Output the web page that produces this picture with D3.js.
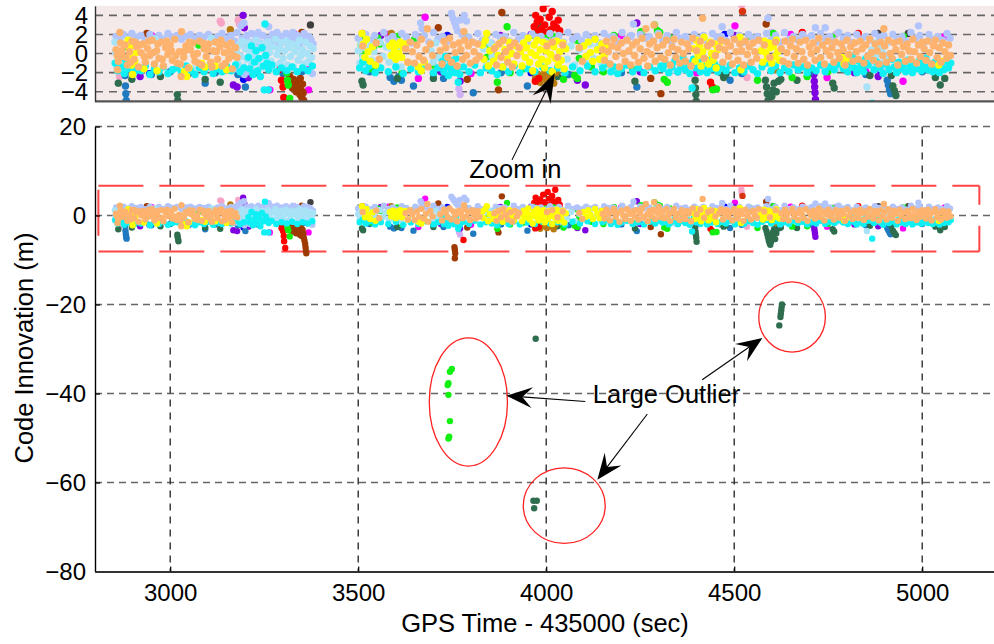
<!DOCTYPE html>
<html><head><meta charset="utf-8">
<script src="https://cdn.jsdelivr.net/npm/d3@7/dist/d3.min.js"></script>
<style>
html,body{margin:0;padding:0;background:#fff;overflow:hidden}
svg{display:block;font-family:"Liberation Sans",Arial,Helvetica,sans-serif}
</style></head><body>
<svg id="chart" width="994" height="644"></svg>
<script>
// Code innovation per satellite, [GPS time - 435000 (s), innovation (m)]
const sandy = [
[2856,0.4],[2859,-0.2],[2860,-1.7],[2862,-0.8],[2866,2.2],[2868,1.1],[2871,0.3],[2874,-0.3],[2880,0.9],[2883,-0.4],[2886,-1.2],[2892,0.2],[2895,-0.9],[2898,1.3],[2904,-0.6],[2907,1.2],[2910,0.7],[2916,-1.4],[2919,0.9],[2922,0.1],[2928,1.0],[2931,-0.3],[2934,-0.9],[2940,0.5],[2943,1.3],[2946,-0.2],[2952,1.4],[2955,0.1],[2958,-1.1],[2964,0.3],[2967,1.0],[2970,-0.5],[2976,1.2],[2979,-0.6],[2982,-1.3],[2988,0.6],[2991,1.3],[2994,-0.1],[3000,0.9],[3003,0.3],[3006,-0.7],[3012,1.5],[3015,-0.2],[3018,-1.0],[3024,0.2],[3027,-1.1],[3029,-2.4],[3030,2.3],[3036,-0.4],[3039,0.3],[3042,0.8],[3048,-1.5],[3051,1.2],[3054,0.4],[3060,1.1],[3063,-0.2],[3066,-0.8],[3072,0.0],[3075,-1.0],[3078,1.3],[3084,-1.2],[3087,1.1],[3090,0.5],[3096,-0.3],[3099,0.4],[3102,1.0],[3108,-0.9],[3111,-1.4],[3114,0.3],[3120,1.2],[3123,0.2],[3126,-0.6],[3132,0.7],[3135,1.4],[3138,-1.3],[3144,0.1],[3147,-1.0],[3150,0.9],[3156,-0.5],[3159,0.3],[3162,1.1],[3165,-1.6],[3168,-0.2],[3174,0.6],[3178,-0.4],
[3512,0.8],[3548,1.1],[3556,-0.6],[3626,0.5],[3632,-0.9],[3638,1.2],[3644,0.2],[3650,-1.0],[3656,0.9],[3662,-0.3],[3668,1.5],[3674,-0.7],[3680,0.4],[3684,2.6],[3686,-1.4],[3692,1.0],[3698,-0.2],
[3718,0.3],[3723,-1.1],[3728,1.3],[3733,0.6],[3738,-0.4],[3743,1.6],[3748,-0.9],[3753,0.9],[3758,0.1],[3763,-1.3],[3768,1.1],[3773,0.4],[3778,-0.6],[3781,2.3],[3783,1.4],[3788,-0.2],[3793,0.8],[3798,-1.0],[3803,1.2],[3808,0.2],[3813,-0.7],[3818,1.0],[3823,-0.3],
[3862,0.5],[3868,-1.2],[3874,1.0],[3880,-0.4],[3886,1.4],[3892,0.2],[3898,-0.9],[3904,0.7],[3910,-1.4],[3916,1.1],[3922,-0.2],[3928,0.6],
[4002,0.8],[4016,1.2],[4030,-0.4],[4044,0.9],[4088,0.6],[4096,-0.8],
[4150,0.4],[4155,-0.7],[4160,1.3],[4165,0.2],[4170,-1.1],[4175,0.8],[4180,1.5],[4185,-0.3],[4190,0.6],[4195,-1.4],[4200,1.1],[4205,0.0],[4210,-0.8],[4215,1.4],[4220,0.3],[4225,-1.2],[4230,0.9],[4235,-0.2],[4240,1.2],[4245,-0.9],[4250,0.5],[4255,1.6],[4260,-0.5],[4265,2.6],[4268,0.2],[4270,-1.3],[4275,1.0],[4280,-0.1],[4285,1.3],[4287,3.0],[4290,-0.8],[4295,0.6],[4300,1.9],[4305,-0.4],
[4310,0.9],[4315,-0.6],[4320,1.4],[4325,0.1],[4330,-1.2],[4335,0.7],[4340,1.5],[4345,-0.4],[4350,0.4],[4355,-1.0],[4360,1.2],[4365,0.0],[4370,-0.8],[4375,1.0],[4380,0.5],[4385,-1.3],[4390,1.6],[4400,0.3],[4410,1.3],[4416,3.7],[4420,-0.5],[4430,0.8],[4440,1.1],[4450,-0.2],[4460,0.6],[4465,1.4],[4470,-0.9],[4475,0.4],[4480,1.2],[4485,-0.3],[4490,0.8],[4495,-1.1],[4500,1.5],[4505,0.2],[4510,-0.7],[4515,1.0],[4520,0.3],[4525,-1.2],[4530,1.3],[4535,-0.1],[4540,0.7],[4545,-0.9],[4550,1.1],[4555,0.2],[4560,-0.5],[4565,1.4],[4580,0.9],[4595,-0.4],[4610,1.2],[4625,0.5],[4630,-0.8],[4635,1.3],[4640,0.1],[4645,-1.1],[4650,0.8],[4655,1.5],[4660,-0.3],[4665,0.5],[4670,-1.0],[4675,1.2],[4680,0.2],[4685,-0.6],[4690,1.4],[4695,-1.2],[4700,0.7],[4705,0.0],[4710,1.1],[4715,-0.7],[4720,0.4],[4725,1.6],[4730,-0.4],[4735,0.9],[4740,-1.1],[4745,0.3],[4750,1.3],[4755,-0.2],[4760,0.6],[4765,-0.9],[4770,1.2],[4775,0.1],[4780,-0.5],[4785,1.0],[4790,0.4],[4795,-1.2],[4800,1.4],[4805,-0.1],[4810,0.7],[4815,-0.8],[4820,1.1],[4825,0.2],[4830,-0.6],[4835,1.3],[4840,0.5],[4845,-1.0],[4850,0.9],[4855,-0.3],[4860,1.5],[4865,0.1],[4870,-0.7],[4875,1.0],[4880,0.3],[4885,-1.1],[4890,1.2],[4895,-0.2],[4898,2.6],[4900,0.8],[4905,-0.9],[4910,1.4],[4915,0.0],[4920,-0.5],[4925,1.1],[4930,0.4],[4935,-1.2],[4940,1.3],[4945,-0.1],[4950,0.7],[4955,-0.8],[4960,1.0],[4965,0.3],[4970,-0.6],[4975,1.5],[4980,0.2],[4985,-1.0],[4990,0.9],[4995,-0.3],[5000,1.2],[5005,0.5],[5010,-0.7],[5015,1.3],[5020,0.1],[5025,-1.1],[5030,0.8],[5035,1.4],[5040,-0.4],[5045,0.6],[5050,-0.9],[5055,1.1],[5060,0.2],[5065,-0.5],[5070,0.9],[5075,-0.2]
];
const periwinkle = [
[2856,1.8],[2866,1.5],[2876,2.0],[2888,1.6],[2898,2.1],[2910,1.7],[2922,1.9],[2934,1.4],[2946,2.0],[2958,1.6],[2970,1.9],[2982,1.5],[2994,2.1],[3006,1.7],[3018,1.9],[3030,1.5],[3042,1.8],[3054,2.0],[3066,1.6],[3078,1.9],[3090,1.7],[3102,2.0],[3114,1.5],[3126,1.8],[3138,2.1],[3150,1.6],[3162,1.9],[3172,1.3],[3176,-1.6],[3178,2.2],[3184,0.9],[3188,2.9],[3192,1.6],[3196,3.2],[3197,-2.2],[3200,0.6],[3204,1.9],[3210,1.2],[3212,-1.9],[3216,2.1],[3222,0.8],[3228,1.7],[3234,2.2],[3240,1.1],[3246,1.9],[3252,0.5],[3258,1.6],[3262,2.8],[3266,1.0],[3272,2.0],[3278,1.4],[3284,2.2],[3290,0.9],[3296,1.8],[3302,1.3],[3308,2.1],[3314,1.0],[3320,1.7],[3326,2.2],[3332,1.4],[3338,1.9],[3344,0.8],[3350,1.6],[3356,2.1],[3362,1.2],[3368,1.8],[3374,1.5],[3378,-2.1],[3380,1.0],
[3500,1.6],[3510,1.2],[3520,2.0],[3532,1.4],[3544,1.9],[3556,1.2],[3568,2.2],[3580,1.5],[3592,1.8],[3604,1.3],[3616,2.1],[3628,1.7],[3640,1.1],[3652,2.0],[3664,1.6],[3666,3.2],[3670,2.6],[3676,1.9],[3688,1.2],[3700,2.2],[3712,1.5],[3724,1.8],[3736,1.3],[3748,4.2],[3752,3.7],[3756,3.3],[3760,2.8],[3764,2.4],[3770,3.5],[3776,2.0],[3782,4.0],[3788,3.4],[3794,1.7],[3806,1.2],[3818,2.1],[3830,1.4],[3842,1.9],[3854,1.1],[3866,2.0],[3878,1.7],[3890,1.8],[3902,1.3],[3914,2.2],[3926,1.5],[3938,1.9],[3950,1.2],[3962,2.0],[3974,1.7],[3986,1.8],[3998,1.3],[4010,2.1],[4022,1.4],[4034,1.9],[4046,1.2],[4058,2.2],[4070,1.5],[4082,1.8],[4094,1.4],[4106,2.0],[4118,1.6],[4130,1.9],[4142,1.1],[4154,2.1],[4166,1.7],[4178,1.8],[4190,1.3],[4202,2.2],[4214,1.5],[4226,1.9],[4232,3.1],[4238,1.2],[4250,2.0],[4262,1.6],[4274,1.8],[4286,1.3],[4298,2.1],[4310,1.4],[4322,1.9],[4334,1.2],[4346,2.2],[4358,1.6],[4370,1.8],[4382,1.3],[4394,2.0],[4406,1.5],[4418,1.9],[4430,1.2],[4442,2.1],[4454,1.7],[4466,1.8],[4468,2.8],[4478,1.4],[4490,2.2],[4502,1.5],[4514,1.9],[4526,1.2],[4538,2.0],[4550,1.6],[4562,1.8],[4574,1.3],[4586,2.1],[4590,3.7],[4598,1.4],[4610,1.9],[4622,1.2],[4634,2.2],[4646,1.5],[4658,1.8],[4670,1.4],[4682,2.0],[4694,1.6],[4706,1.9],[4716,2.7],[4718,1.2],[4730,2.1],[4742,2.7],[4744,1.5],[4754,1.8],[4766,1.3],[4778,2.2],[4790,1.6],[4802,1.9],[4814,1.2],[4826,2.0],[4838,1.5],[4850,1.8],[4862,1.4],[4874,2.1],[4886,1.7],[4898,1.9],[4910,1.2],[4922,2.0],[4934,1.5],[4946,1.8],[4958,1.3],[4970,2.2],[4982,1.6],[4990,2.9],[4994,1.9],[5006,1.2],[5018,2.0],[5030,1.5],[5042,1.8],[5054,1.4],[5066,2.1],[5074,1.6]
];
const skyBlue = [
[2853,1.2],[2853,-1.0],[2855,0.1],[2858,-1.4],[2900,-1.6],[2960,1.5],[3060,-1.6],[3110,1.6],
[3176,0.2],[3180,-1.0],[3184,0.9],[3188,-0.3],[3192,1.3],[3196,-1.4],[3200,0.5],[3204,-0.6],[3208,1.1],[3212,0.0],[3216,-1.2],[3220,0.8],[3224,-0.2],[3228,1.4],[3232,-0.9],[3236,0.4],[3240,-1.5],[3244,1.0],[3248,-0.4],[3252,0.6],[3256,-1.1],[3260,1.2],[3264,0.1],[3268,-0.8],[3272,0.7],[3276,-1.3],[3280,1.5],[3284,-0.1],[3288,0.5],[3292,-1.0],[3296,1.1],[3300,-0.5],[3304,0.3],[3308,1.3],[3312,-1.2],[3316,0.6],[3320,-0.3],[3324,1.0],[3328,-1.4],[3332,0.2],[3336,0.9],[3340,-0.7],[3344,1.4],[3348,-0.2],[3352,0.4],[3356,-1.1],[3360,1.2],[3364,0.0],[3368,-0.8],[3372,0.8],[3376,-0.4],[3380,0.5],
[3500,0.3],[3504,-1.0],[3508,1.0],[3512,-0.4],[3518,0.6],[3524,-1.3],[3530,0.9],[3536,-0.7],[3542,0.2],[3550,-1.1],[3558,1.2],[3566,-0.3],[3574,0.7],[3582,-0.9],[3590,0.4],[3598,-0.8],[3606,0.5],[3614,-1.4],[3620,1.0],[3694,0.3],[3700,-0.9],[3706,1.1],[3712,-0.4],[3834,0.5],[3842,-1.0],[3850,1.1],[3856,-0.3],[4056,-0.6],[4066,0.8],[4076,-1.2],[4088,0.4],[4104,-0.9],[4116,1.0],[4126,-0.5],[4136,0.7],[4146,-1.1],
[4340,-1.7],[4460,-1.6],[4480,-1.5],[4600,-1.5],[4740,-1.5],[4770,-1.6],[4853,-3.5],[4862,-0.6],[4866,0.4],[4870,-1.4],[4874,1.1],[4878,-0.2],[4882,-1.0],[4886,0.7],[4890,-1.6],[4894,0.2],[4898,-0.9],[4902,1.0],[4906,-1.3],[4910,-0.3],[5000,-1.6]
];
const cyan = [
[2854,-1.0],[2860,-1.8],[2866,-0.6],[2872,-1.4],[2878,-2.1],[2884,-0.9],[2890,-1.6],[2896,-1.2],[2904,-2.0],[2912,-1.5],[2922,-1.8],[2934,-1.3],[2946,-2.2],[2958,-1.6],[2970,-1.9],[2982,-1.4],[2994,-2.1],[3006,-1.7],[3018,-1.5],[3030,-2.0],[3042,-1.3],[3054,-1.8],[3066,-2.2],[3078,-1.5],[3090,-1.9],[3102,-1.4],[3114,-2.1],[3126,-1.6],[3138,-1.9],[3150,-1.3],[3162,-1.8],[3174,-1.2],[3186,-1.9],[3196,-1.5],[3208,-0.4],[3212,-1.6],[3216,0.8],[3220,-2.2],[3224,-0.9],[3228,0.3],[3232,-1.8],[3236,-0.5],[3240,-2.4],[3244,0.6],[3248,-1.3],[3250,-3.8],[3252,3.1],[3254,-0.2],[3258,-1.0],[3261,-3.8],[3262,-1.7],[3270,-1.2],[3282,-1.9],[3296,-1.5],[3310,-1.8],[3324,-1.4],[3338,-1.9],[3352,-1.5],[3366,-1.8],[3378,-1.3],
[3504,-1.5],[3512,-0.9],[3520,-1.8],[3530,-1.3],[3545,-2.0],[3560,-1.5],[3580,-1.9],[3600,-1.4],[3620,-2.1],[3640,-1.6],[3660,-1.9],[3680,-1.3],[3700,-2.0],[3712,-1.5],[3724,-0.8],[3728,-1.9],[3732,-0.3],[3736,-1.4],[3740,-2.3],[3744,-0.7],[3748,-1.7],[3752,-1.1],[3756,-2.0],[3760,-0.5],[3764,-1.5],[3766,-3.0],[3770,-2.2],[3780,-1.4],[3795,-1.9],[3810,-1.2],[3825,-2.0],[3840,-1.5],[3855,-1.8],[3870,-2.2],[3885,-1.4],[3900,-1.9],[3915,-1.3],[3930,-2.0],[3950,-1.6],[3970,-1.9],[3990,-1.4],[4010,-1.8],[4030,-1.5],[4050,-2.0],[4070,-1.4],[4090,-1.8],[4110,-1.3],[4130,-1.9],[4150,-1.5],[4165,-1.1],[4172,-1.9],[4180,-1.4],[4190,-2.1],[4200,-1.6],[4215,-1.2],[4230,-1.9],[4245,-1.5],[4260,-2.0],[4275,-1.4],[4290,-1.8],[4305,-1.3],
[4310,-1.6],[4318,-1.1],[4326,-2.0],[4334,-1.4],[4342,-0.8],[4350,-1.9],[4358,-1.3],[4364,-0.4],[4370,-1.7],[4376,-1.0],[4382,-2.1],[4388,-3.6],[4392,-0.6],[4398,-1.5],[4404,-0.9],[4410,-1.9],[4416,-0.3],[4422,-1.3],[4428,-2.0],[4434,-0.7],[4440,-1.6],[4448,-1.1],[4456,-1.9],[4466,-1.4],[4478,-1.8],[4490,-1.2],[4502,-2.0],[4514,-1.5],[4526,-1.9],[4538,-1.3],[4550,-1.7],[4562,-2.1],[4574,-1.4],[4586,-1.0],[4598,-1.8],[4610,-1.3],[4622,-2.0],[4634,-1.5],[4646,-1.9],[4658,-1.2],[4670,-1.7],[4682,-1.4],[4694,-2.0],[4706,-1.5],[4718,-1.8],[4730,-1.2],[4742,-1.9],[4754,-1.4],[4766,-1.7],[4778,-1.1],[4790,-1.6],[4796,-0.6],[4802,-1.9],[4808,-1.2],[4814,-0.3],[4820,-1.5],[4826,-2.0],[4832,-0.8],[4838,-1.4],[4844,-1.9],[4850,-0.5],[4856,-1.2],[4867,-5.2],[4872,-1.7],[4880,-0.9],[4888,-1.5],[4896,-2.1],[4904,-1.1],[4912,-1.7],[4920,-0.6],[4926,-1.4],[4932,-2.0],[4938,-0.9],[4944,-1.6],[4950,-1.2],[4956,-1.9],[4962,-0.7],[4968,-1.4],[4974,-2.0],[4980,-1.1],[4986,-1.6],[4992,-0.8],[4998,-1.8],[5004,-1.3],[5010,-0.5],[5016,-1.7],[5022,-1.1],[5028,-1.9],[5034,-0.9],[5040,-1.5],[5046,-2.0],[5052,-1.2],[5058,-1.7],[5064,-0.8],[5070,-1.5],[5076,-1.0]
];
const yellow = [
[2888,1.4],[2891,0.6],[2894,-0.3],[2897,-1.2],[2900,-2.2],[2903,0.9],[2906,-0.8],[2910,0.1],[2930,-1.6],[2965,-1.8],[3038,-1.9],[3044,-2.4],[3050,-1.5],[3084,-1.0],[3092,-1.4],[3120,-1.3],[3150,-1.7],
[3510,2.1],[3514,1.0],[3518,-0.4],[3522,1.5],[3526,0.2],[3532,-0.8],[3538,0.7],[3546,-1.2],[3584,0.8],[3588,-0.2],[3592,1.1],[3596,0.3],[3600,-0.6],[3604,0.9],[3608,0.0],[3612,1.2],[3616,-0.4],[3620,0.6],[3626,1.0],[3632,-0.9],[3660,-1.4],[3668,-1.8],[3676,-0.9],
[3830,0.9],[3834,-0.6],[3838,1.4],[3842,2.1],[3846,-1.3],[3850,0.3],[3860,-0.8],[3866,0.7],[3872,-0.2],[3878,1.1],[3884,-1.4],[3890,0.4],[3896,-0.6],[3902,1.2],[3908,0.0],[3914,-1.1],[3920,0.8],
[3932,0.2],[3936,-1.3],[3940,1.1],[3944,-0.4],[3948,0.6],[3952,1.6],[3956,-0.9],[3960,0.1],[3964,-1.8],[3968,0.9],[3972,-0.2],[3976,1.4],[3980,-1.1],[3984,0.4],[3988,-0.6],[3992,1.2],[3996,-1.5],[4000,0.3],[4004,-0.8],[4008,1.0],[4012,-0.1],[4016,-1.9],[4020,0.7],[4024,-0.5],[4028,1.3],[4032,-1.2],[4036,0.2],[4040,-0.7],[4044,1.1],[4048,-1.6],[4052,0.5],
[4100,0.8],[4106,-0.3],[4112,1.2],[4118,0.1],[4124,-0.8],[4130,1.5],[4136,0.4],[4142,-0.6],[4148,1.0],[4154,-0.2],[4160,0.7],
[4392,0.5],[4396,-0.8],[4400,1.4],[4404,-0.2],[4408,0.9],[4412,-1.3],[4416,0.2],[4420,1.7],[4424,-0.6],[4428,0.7],[4432,-1.1],[4436,1.2],[4440,0.0],[4444,-0.7],[4448,1.0],[4452,-1.5],[4456,0.4],[4460,0.9],[4515,1.7],[4518,-1.7],
[4572,0.3],[4576,-0.9],[4580,1.3],[4584,0.1],[4588,-0.5],[4592,1.1],[4596,0.6],[4600,-1.0],[4604,0.8],[4608,-0.3],[4612,1.4],[4616,0.2],[4620,-0.7],[4786,-0.4],[4792,-1.1],[4798,-0.6],[5044,-1.2],[5050,-0.8]
];
const lime = [
[2885,0.7],[3076,0.9],[3310,-2.0],[3312,-2.8],[3314,-3.3],[3318,-4.7],
[3508,0.9],[3512,-0.3],[3516,1.7],[3520,0.4],[3524,-1.0],[3528,1.2],[3534,-1.6],[3540,0.6],[3545,-1.3],[3552,1.6],[3558,1.0],[3604,1.8],[3617,-2.0],[3650,1.5],[3700,-1.2],[3790,1.7],[3838,0.8],[3842,-0.4],[3870,-3.0],[3896,2.8],[3904,-2.0],[3940,-1.6],[3965,1.9],[3999,1.6],[4020,1.8],[4046,-2.7],[4076,-2.3],[4082,1.4],[4083,-2.6],[4088,-0.5],[4094,0.8],[4120,-1.4],[4152,-1.9],[4180,1.9],[4230,-1.7],[4252,2.3],[4288,3.0],[4296,2.4],[4302,2.2],[4314,-2.7],[4322,-3.0],[4330,1.6],[4443,-3.8],[4453,-3.7],[4470,-1.5],[4540,1.8],[4562,-2.8],[4604,2.1],[4654,-2.5],[4690,-1.4],[4694,-2.4],[4749,-1.9],[4760,1.7],[4840,-1.6],[4950,1.8],[5020,-1.5],
[3749,-34.5],[3744,-35.1],[3740,-37.7],[3738,-38.1],[3740,-40.3],[3744,-46.2],[3742,-49.7],[3740,-50.1]
];
const forest = [
[2862,-3.1],[2898,-2.7],[2974,-2.4],[3019,-4.3],[3020,-4.9],[3021,-5.3],[3022,-5.8],[3093,-2.7],[3133,-3.0],
[3510,-2.9],[3513,-3.3],[3604,-2.6],[3700,-2.6],[3977,2.6],[3981,2.2],[3985,2.9],[3989,2.4],[4030,-2.4],[4236,-2.9],
[4396,-2.8],[4397,-3.6],[4398,-4.3],[4399,-5.0],[4400,-5.9],[4465,-2.0],[4472,-2.5],[4478,-2.2],
[4583,-2.8],[4586,-3.5],[4588,-4.2],[4590,-4.9],[4592,-5.6],[4594,-6.2],[4596,-6.6],[4598,-5.9],[4600,-4.5],[4603,-3.8],[4606,-3.1],[4609,-5.3],[4612,-4.0],[4618,-2.9],[4624,-2.7],
[4667,-2.8],[4762,-3.1],[4766,-3.6],[4861,-2.3],[4918,-2.3],[4922,-3.4],[4926,-3.9],[4930,-4.4],[5035,-2.5],[5048,-3.3],[5060,-2.6],
[3972,-27.7],[3966,-64.1],[3975,-64.1],[3968,-65.8],[4627,-20.0],[4626,-20.7],[4625,-21.4],[4624,-22.1],[4623,-22.8],[4620,-24.7]
];
const steel = [
[2880,-2.3],[2881,-3.4],[2882,-4.2],[2883,-4.9],[2884,-5.2],[2900,-2.0],[2950,-2.2],[3000,-1.9],[3050,-2.1],[3093,-3.1],[3120,-2.0],[3180,-2.2],[3200,-3.5],[3230,-2.0],[3300,-2.1],[3350,-1.9],
[3530,-1.9],[3585,-2.5],[3595,-2.9],[3608,-2.4],[3615,-2.8],[3647,-3.4],[3700,-2.1],[3727,-2.6],[3806,-4.1],[3880,-2.0],[3950,-3.4],[4046,-2.6],[4060,-2.2],[4200,-2.0],[4241,-3.5],[4350,-1.9],[4489,-2.8],[4520,-2.1],[4700,-2.0],[4850,-2.2],[4907,-2.8],[4910,-3.3],[4913,-3.8],[4916,-4.2],[5000,-1.9]
];
const violet = [
[2920,-2.4],[3168,-3.3],[3178,-3.5],[3194,4.0],[3197,2.7],[3208,-2.5],[3560,1.9],[3720,-1.9],[3771,-2.9],[3878,1.9],[3960,2.0],[4083,-2.8],[4104,-3.3],[4241,3.2],[4250,-1.9],[4500,1.9],[4712,-2.2],[4713,-2.9],[4714,-3.5],[4715,-4.1],[4716,-4.8],[4820,-2.0],[4883,-2.4]
];
const magenta = [
[2950,1.9],[3050,-2.0],[3265,-3.8],[3328,2.1],[3364,-1.7],[3368,-3.8],[3580,2.0],[3660,-2.6],[3678,3.8],[3800,-2.1],[4000,-2.0],[4200,1.9],[4400,-2.0],[4502,2.9],[4650,2.0],[4747,-2.5],[4850,-1.9],[4949,-2.9],[5060,1.8]
];
const red = [
[3288,-1.7],[3296,-2.8],[3300,-3.5],[3302,-4.6],[3303,-5.8],[3306,-7.3],[3780,-5.5],
[3968,2.8],[3971,-2.9],[3972,4.0],[3976,3.3],[3980,-2.6],[3980,2.3],[3984,3.6],[3988,2.6],[3992,4.7],[3996,3.0],[4000,2.2],[4004,5.3],[4008,3.8],[4012,2.5],[4016,4.4],[4020,3.1],[4024,5.8],[4028,2.7],[4032,3.5],[4036,2.4],
[4437,-3.0],[4442,-3.5],[4681,2.2],[4830,2.1]
];
const rust = [
[2938,2.1],[3318,-2.4],[3322,-3.0],[3325,-3.6],[3328,-2.7],[3332,-3.3],[3335,-4.0],[3338,-2.9],[3342,-3.5],[3345,-4.3],[3346,-2.6],[3348,-3.8],[3350,-4.6],[3350,2.2],[3352,-3.2],[3354,-4.1],[3355,-4.9],[3357,-5.6],[3359,-6.4],[3360,-7.2],[3361,-8.0],[3362,-8.5],
[3713,2.7],[3756,-7.1],[3757,-7.7],[3758,-8.5],[3757,-9.6],[3790,-2.7],[3873,-3.8],[3882,4.3],[4278,-2.6],[4305,-4.2],[4585,3.1]
];
const ochre = [
[3160,2.5],[3588,2.1],[3966,-1.9],[3972,-2.6],[3978,-2.2],[3984,-3.0],[3990,-2.4],[3996,-1.8],[4002,-2.8],[4008,-2.1],[4014,-2.5],[4020,-3.1],[4026,-2.0],[4610,-1.7]
];
const pink = [[2865,-2.4],[3133,3.4],[3136,3.2],[3181,3.5],[3184,3.1],[4519,5.8],[4520,5.1],[4534,-2.5]];
const lilac = [[3768,-3.7],[3771,-4.3],[4225,1.8],[4600,2.2],[4770,2.0]];
const charcoal = [[3373,3.0],[4883,2.1],[4963,2.1]];
const blue = [[2945,-2.1],[3195,-2.7],[3737,1.9],[3960,-2.0],[4475,2.0],[4890,-1.8]];
const vermilion = [[3511,2.1],[4522,4.4]];

// Axis ticks
const xTicks = [3000, 3500, 4000, 4500, 5000];
const yTicksMain = [20, 0, -20, -40, -60, -80];
const yTicksZoom = [4, 2, 0, -2, -4];

// Drawing order (later series sit on top) with marker colours
const layers = [
  {pts: charcoal, color: "#404040"},
  {pts: blue, color: "#0000ff"},
  {pts: lilac, color: "#cfb0f2"},
  {pts: pink, color: "#f7a3c6"},
  {pts: vermilion, color: "#d8340f"},
  {pts: magenta, color: "#ff00ff"},
  {pts: violet, color: "#7f00e0"},
  {pts: steel, color: "#1f7ac0"},
  {pts: forest, color: "#2e6e4e"},
  {pts: rust, color: "#9e3a02"},
  {pts: ochre, color: "#b87a0c"},
  {pts: red, color: "#ff0000"},
  {pts: lime, color: "#11f011"},
  {pts: periwinkle, color: "#b2c4fc"},
  {pts: skyBlue, color: "#a8e2f7"},
  {pts: cyan, color: "#0ff0f5"},
  {pts: yellow, color: "#ffff00"},
  {pts: sandy, color: "#fdb36e"}
];

const FONT = '"Liberation Sans",Arial,sans-serif';
const svg = d3.select("#chart");
const x = d3.scaleLinear().domain([2800, 5200]).range([95, 997.4]);
const yMain = d3.scaleLinear().domain([-80, 20]).range([571.5, 126.5]);
const yZoom = d3.scaleLinear().domain([-5, 5]).range([101.3, 5.8]);
const left = 95, right = 997.4;

// ---------- zoomed panel ----------
const zoomG = svg.append("g");
zoomG.append("rect").attr("x", left).attr("y", yZoom(5)).attr("width", right - left)
  .attr("height", yZoom(-5) - yZoom(5)).attr("fill", "#f4eaea");
svg.append("clipPath").attr("id", "zclip").append("rect")
  .attr("x", left).attr("y", yZoom(5)).attr("width", right - left).attr("height", yZoom(-5) - yZoom(5));
zoomG.selectAll("line.zg").data(yTicksZoom).join("line").attr("class", "zg")
  .attr("x1", left).attr("x2", right).attr("y1", d => yZoom(d)).attr("y2", d => yZoom(d))
  .attr("stroke", "#666").attr("stroke-width", 1.6).attr("stroke-dasharray", "8,6");
const zoomPts = zoomG.append("g").attr("clip-path", "url(#zclip)");
layers.forEach(l => {
  zoomPts.append("g").selectAll("circle").data(l.pts).join("circle")
    .attr("cx", d => x(d[0])).attr("cy", d => yZoom(d[1])).attr("r", 3.7).attr("fill", l.color);
});
zoomG.append("line").attr("x1", left).attr("x2", right).attr("y1", yZoom(-5)).attr("y2", yZoom(-5))
  .attr("stroke", "#555").attr("stroke-width", 2.2);
const zAxis = zoomG.append("g").attr("transform", `translate(${left},0)`)
  .call(d3.axisLeft(yZoom).tickValues(yTicksZoom).tickSize(0).tickSizeOuter(0).tickPadding(7));
zAxis.select(".domain").attr("stroke", "#333").attr("stroke-width", 1.4);
zAxis.selectAll("text").attr("font-size", 24).attr("fill", "#000").attr("font-family", FONT);

// ---------- main panel ----------
const mainG = svg.append("g");
mainG.selectAll("line.hg").data(yTicksMain.filter(d => d !== -80)).join("line").attr("class", "hg")
  .attr("x1", left).attr("x2", right).attr("y1", d => yMain(d)).attr("y2", d => yMain(d))
  .attr("stroke", "#666").attr("stroke-width", 1.4).attr("stroke-dasharray", "7,5");
mainG.selectAll("line.vg").data(xTicks).join("line").attr("class", "vg")
  .attr("x1", d => x(d)).attr("x2", d => x(d)).attr("y1", yMain(20)).attr("y2", yMain(-80))
  .attr("stroke", "#222").attr("stroke-width", 1.3).attr("stroke-dasharray", "7,6");

// red dashed frame around the zoomed band
const frame = {t0: 2809, t1: 5152, v0: -8.1, v1: 6.7};
const fr = mainG.append("g").attr("stroke", "#ff4545").attr("stroke-width", 2).attr("fill", "none");
fr.append("line").attr("x1", x(frame.t0)).attr("x2", x(frame.t1)).attr("y1", yMain(frame.v1)).attr("y2", yMain(frame.v1)).attr("stroke-dasharray", "45,16");
fr.append("line").attr("x1", x(frame.t0)).attr("x2", x(frame.t1)).attr("y1", yMain(frame.v0)).attr("y2", yMain(frame.v0)).attr("stroke-dasharray", "45,16");
fr.append("line").attr("x1", x(frame.t0)).attr("x2", x(frame.t0)).attr("y1", yMain(frame.v1)).attr("y2", yMain(frame.v0)).attr("stroke-dasharray", "0,4,46,40");
fr.append("line").attr("x1", x(frame.t1)).attr("x2", x(frame.t1)).attr("y1", yMain(frame.v1)).attr("y2", yMain(frame.v0)).attr("stroke-dasharray", "19,21,30");

layers.forEach(l => {
  mainG.append("g").selectAll("circle").data(l.pts).join("circle")
    .attr("cx", d => x(d[0])).attr("cy", d => yMain(d[1])).attr("r", 3.2).attr("fill", l.color);
});

const yAx = mainG.append("g").attr("transform", `translate(${left},0)`)
  .call(d3.axisLeft(yMain).tickValues(yTicksMain).tickFormat(d3.format("d")).tickSize(-5).tickSizeOuter(0).tickPadding(9));
yAx.select(".domain").attr("stroke", "#000").attr("stroke-width", 1.4);
yAx.selectAll(".tick line").attr("stroke", "#000").attr("stroke-width", 1.2);
yAx.selectAll("text").attr("font-size", 24).attr("fill", "#000").attr("font-family", FONT);

const xAx = mainG.append("g").attr("transform", `translate(0,${yMain(-80)})`)
  .call(d3.axisBottom(x).tickValues(xTicks).tickFormat(d3.format("d")).tickSize(-5).tickSizeOuter(0).tickPadding(12));
xAx.select(".domain").attr("stroke", "#333").attr("stroke-width", 2);
xAx.selectAll(".tick line").attr("stroke", "#000").attr("stroke-width", 1.2);
xAx.selectAll("text").attr("font-size", 24).attr("fill", "#000").attr("font-family", FONT);

svg.append("text").attr("x", 545).attr("y", 632).attr("text-anchor", "middle")
  .attr("font-size", 25.5).attr("font-family", FONT).text("GPS Time - 435000 (sec)");
svg.append("text").attr("transform", "translate(33,348) rotate(-90)").attr("text-anchor", "middle")
  .attr("font-size", 25.5).attr("font-family", FONT).text("Code Innovation (m)");

// ---------- annotations ----------
const ann = svg.append("g");
function arrow(x1, y1, x2, y2, L, Wd, N) {
  const a = Math.atan2(y2 - y1, x2 - x1), c = Math.cos(a), s = Math.sin(a);
  const p = (u, v) => [x2 + u * c - v * s, y2 + u * s + v * c];
  const base = p(-N, 0);
  ann.append("line").attr("x1", x1).attr("y1", y1).attr("x2", base[0]).attr("y2", base[1])
    .attr("stroke", "#000").attr("stroke-width", 1.1);
  ann.append("path").attr("d", "M" + [p(0, 0), p(-L, Wd), p(-N, 0), p(-L, -Wd)].map(q => q.join(",")).join("L") + "Z")
    .attr("fill", "#000");
}
const ellipses = [
  {t: 3793, v: -41.9, dt: 104, dv: 14.4},
  {t: 4048, v: -65.2, dt: 109, dv: 8.5},
  {t: 4654, v: -22.8, dt: 88.6, dv: 7.9}
];
ellipses.forEach(e => {
  ann.append("ellipse").attr("cx", x(e.t)).attr("cy", yMain(e.v))
    .attr("rx", x(e.t + e.dt) - x(e.t)).attr("ry", yMain(e.v - e.dv) - yMain(e.v))
    .attr("fill", "none").attr("stroke", "#ff2020").attr("stroke-width", 1.3);
});
arrow(x(3909), yMain(12.5), x(4023), yZoom(-2.0), 30, 10, 19);
arrow(x(4104), yMain(-41.8), x(3894), yMain(-40.5), 26, 10.5, 16);
arrow(x(4269), yMain(-44.6), x(4136), yMain(-59.4), 26, 10.5, 16);
arrow(x(4415), yMain(-36.9), x(4575), yMain(-27.5), 26, 10.5, 16);
ann.append("text").attr("x", x(3918)).attr("y", yMain(8.5)).attr("text-anchor", "middle")
  .attr("font-size", 25.5).attr("font-family", FONT).text("Zoom in");
ann.append("text").attr("x", x(4320)).attr("y", yMain(-42.1)).attr("text-anchor", "middle")
  .attr("font-size", 25.5).attr("font-family", FONT).text("Large Outlier");
</script>
</body></html>
